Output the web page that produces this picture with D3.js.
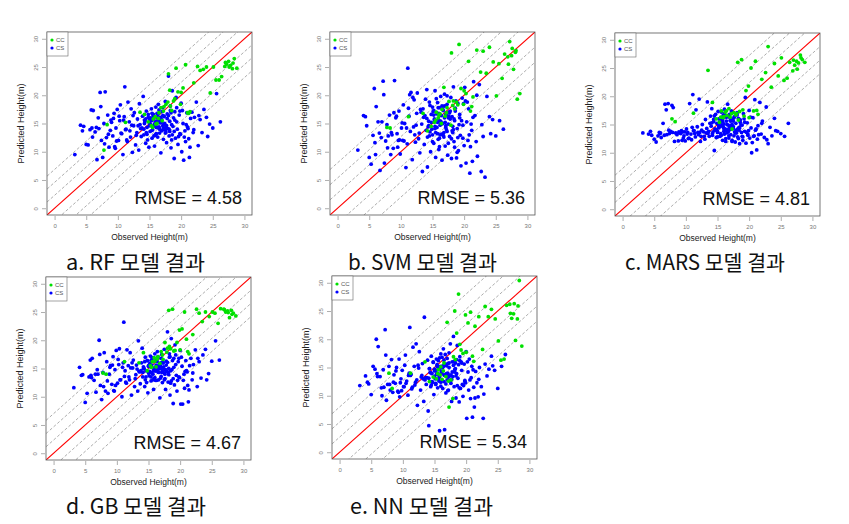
<!DOCTYPE html>
<html><head><meta charset="utf-8">
<script src="https://cdn.jsdelivr.net/npm/d3@7"></script>
<style>body{margin:0;background:#fff}svg{display:block}</style>
</head><body>
<svg id="c" width="849" height="524"></svg>
<script>
// ---------- DATA ----------
const obsCS = [
3.2,4.1,4.6,5.0,5.3,5.8,6.1,6.4,6.7,6.9,7.2,7.4,7.6,7.8,8.0,8.2,8.4,8.6,8.8,9.0,
9.2,9.4,9.5,9.7,9.9,10.1,10.3,10.4,10.6,10.8,11.0,11.1,11.3,11.5,11.6,11.8,12.0,12.1,12.3,12.5,
12.6,12.8,13.0,13.1,13.3,13.4,13.6,13.7,13.9,14.0,14.1,14.2,14.4,14.5,14.6,14.7,14.8,14.9,15.0,15.1,
15.2,15.3,15.4,15.5,15.5,15.6,15.7,15.8,15.9,16.0,16.0,16.1,16.2,16.3,16.4,16.4,16.5,16.6,16.7,16.8,
16.9,17.0,17.0,17.1,17.2,17.3,17.4,17.5,17.6,17.7,17.8,17.9,18.0,18.1,18.2,18.3,18.4,18.5,18.6,18.8,
18.9,19.0,19.1,19.3,19.4,19.5,19.7,19.8,20.0,20.1,20.3,20.4,20.6,20.7,20.9,21.0,21.2,21.3,21.5,21.7,
21.9,22.1,22.4,22.7,23.0,23.3,23.6,24.0,24.5,25.0,25.6,26.2,
14.3,15.2,15.8,16.2,16.6,17.1,17.5,18.0,18.7,19.2,13.5,12.9,11.9,10.9,9.8,8.5,7.0,6.0,5.6,4.4,
14.1,14.6,15.0,15.4,15.7,16.1,16.5,16.9,17.3,17.7,18.2,18.6,19.0,19.6,20.2,20.8,21.4,22.0,13.2,12.4,11.4,10.5,9.3,7.9,6.6,15.3,16.3,17.2,18.3,19.9,
13.8,14.2,14.5,14.8,15.0,15.2,15.4,15.6,15.8,16.0,16.1,16.3,16.5,16.7,16.9,17.1,17.3,17.5,17.8,18.1,
18.4,18.9,19.3,19.8,20.5,21.1,12.2,11.2,10.2,9.6,8.9,7.3,5.9,14.4,15.9,16.8,17.6,18.5,22.8,24.2];

const obsCC = [7.8,8.3,11.2,13.5,14.2,14.8,15.3,15.6,15.9,16.2,16.5,16.8,17.0,17.3,17.6,17.9,18.2,18.5,18.8,19.2,19.5,19.9,20.3,20.7,21.0,21.4,22.0,22.6,23.0,23.5,24.0,24.6,25.1,25.5,26.0,26.4,26.9,27.2,27.5,27.8,28.1,28.4,28.8,18.0,16.0,
15.5,16.4,17.2,18.3,19.0,20.0,21.2,27.0,27.6,28.2];

const predCS_RF = [
9.5,14.7,14.5,11.3,11.2,17.4,17.3,13.5,8.6,16.0,20.5,12.0,9.0,15.0,20.6,12.5,16.5,10.8,13.8,15.2,
12.8,16.8,10.9,14.2,17.5,12.0,15.5,18.3,13.2,9.5,16.2,21.5,14.0,11.8,18.8,15.3,12.6,17.6,9.9,14.6,
16.9,11.2,13.4,15.8,10.3,18.5,14.1,12.7,16.3,19.8,13.0,15.6,11.5,17.2,14.3,12.1,16.6,10.8,15.1,13.6,
14.8,17.6,12.4,15.9,13.9,16.4,14.5,11.0,15.3,17.9,13.1,14.9,16.8,12.6,15.6,18.4,14.2,13.3,16.1,9.8,
15.7,13.8,17.1,14.6,12.2,16.3,15.0,18.9,13.5,11.6,16.7,14.1,23.4,12.8,15.4,17.3,10.7,14.8,13.0,16.0,
8.8,15.6,12.4,17.8,14.0,11.3,16.5,13.2,18.6,10.0,15.0,8.5,13.7,11.8,16.9,14.4,12.3,9.0,15.9,17.0,
13.4,16.1,18.8,11.1,15.7,13.4,17.5,16.1,14.9,14.2,20.3,15.3,
15.4,16.0,14.7,15.2,14.0,17.8,13.9,16.4,14.5,19.6,14.8,12.9,13.7,15.6,11.9,13.1,14.1,12.6,13.9,13.7,
14.0,13.1,15.8,16.8,12.8,14.3,17.4,15.2,16.2,14.6,13.6,20.8,17.1,12.7,17.3,14.8,10.8,13.9,14.6,16.4,12.1,13.3,15.9,11.4,14.3,15.5,16.6,14.2,18.1,13.1,
14.2,15.0,13.4,16.1,14.6,15.7,13.8,16.6,14.9,15.4,13.2,16.0,14.4,15.1,13.7,16.4,14.8,13.3,15.9,14.0,
16.9,13.6,15.3,17.2,12.6,14.1,14.7,13.9,16.3,10.6,15.6,18.0,14.2,15.8,12.9,15.5,14.4,12.1,16.4,12.7];
const predCC_RF = [10.3,14.8,15.2,17.0,16.6,15.3,14.6,15.8,16.2,15.0,16.9,17.8,15.5,18.0,18.4,18.8,20.9,17.3,19.0,24.8,20.6,18.4,21.3,25.4,16.9,17.1,22.2,25.1,24.4,24.6,25.0,20.4,25.0,22.7,22.7,23.3,25.1,25.5,26.0,25.3,24.7,26.5,24.8,23.8,14.9,
14.3,15.9,17.2,18.1,19.4,20.5,16.8,25.8,25.0,25.7];

const predCS_SVM = [
10.3,16.4,14.6,9.0,7.8,21.2,18.0,15.3,6.7,12.5,22.5,8.0,11.9,14.8,12.8,16.5,9.5,13.0,10.6,22.6,
16.0,13.2,10.8,17.2,9.6,14.2,12.0,18.3,15.0,7.2,11.4,24.8,16.3,13.6,20.5,8.6,14.4,19.2,11.7,16.8,
20.4,12.3,9.8,17.5,14.9,6.5,16.1,11.3,19.3,13.8,21.0,7.3,15.4,12.8,18.2,10.0,16.6,14.0,13.0,17.1,
11.5,15.8,20.8,13.4,9.0,16.9,14.3,18.7,12.2,15.6,10.4,17.8,14.7,19.8,13.1,16.4,8.5,15.0,17.3,12.6,
20.2,15.2,11.0,16.6,13.9,18.4,9.4,14.9,17.0,12.7,15.8,19.6,8.8,16.2,13.4,21.5,11.8,15.5,17.7,8.9,
14.1,18.6,10.2,16.0,12.9,7.5,19.5,14.7,11.1,21.4,8.0,15.3,12.0,17.6,6.2,10.9,13.8,8.3,22.4,16.4,
11.8,9.2,21.9,6.5,12.7,5.5,19.8,16.2,15.7,12.8,15.5,14.0,
14.4,16.5,15.2,13.0,17.6,14.6,16.0,12.3,19.0,14.8,17.6,13.3,19.6,14.2,12.1,13.4,15.3,9.5,12.9,16.2,
15.9,13.5,17.9,14.1,16.7,12.4,15.0,18.1,13.6,16.9,14.5,17.2,12.5,15.5,19.0,13.0,16.1,20.0,17.0,14.7,20.1,11.9,16.3,10.7,13.3,15.6,14.9,16.6,13.9,18.5,
16.4,12.6,18.8,15.2,11.8,17.3,14.5,19.4,13.2,16.8,10.9,15.4,18.1,12.9,16.0,14.3,19.9,11.5,17.2,13.7,
15.8,9.9,16.6,12.4,18.8,14.9,13.0,17.7,15.1,12.0,16.9,20.1,11.6,14.6,17.8,13.4,16.3,10.8,14.8,13.2];
const predCC_SVM = [14.3,14.2,16.2,16.8,13.7,14.5,15.2,17.0,16.0,16.7,17.5,21.4,16.3,17.8,18.9,14.7,18.2,17.6,18.8,29.0,21.2,18.4,20.3,26.0,17.2,19.7,28.0,24.1,27.8,23.9,28.5,25.9,19.9,25.6,23.0,27.3,26.8,29.5,27.0,24.6,27.6,19.3,20.3,27.5,16.5,
15.6,15.0,16.9,19.0,18.3,20.8,18.0,25.5,28.3,27.9];

const predCS_MARS = [
13.5,13.3,13.1,12.4,11.9,13.6,12.7,15.2,18.6,17.6,18.7,13.4,13.8,18.4,18.0,12.0,13.5,13.2,12.1,13.5,
13.4,12.2,13.7,13.0,12.1,14.2,13.6,12.5,18.7,13.3,14.5,20.3,13.9,12.8,17.6,14.6,13.2,19.5,12.0,14.0,
15.0,13.7,12.4,15.9,14.3,19.0,13.8,12.9,16.5,14.7,17.8,13.1,15.5,10.4,14.2,16.8,12.7,15.2,13.6,17.3,
14.4,16.0,12.9,15.4,13.4,17.2,14.8,12.2,16.6,15.1,13.8,17.7,14.2,12.0,16.3,15.6,13.5,18.6,14.9,12.6,
16.8,14.1,15.7,13.2,17.4,12.0,15.9,14.6,13.0,16.4,11.9,15.2,14.0,17.1,12.8,16.1,14.5,11.6,15.8,13.6,
14.9,12.2,16.9,13.8,19.8,11.7,15.3,13.1,17.5,12.6,14.4,10.0,16.2,12.9,19.4,14.0,10.5,12.4,13.2,18.9,
13.3,15.6,12.7,18.1,11.6,14.5,13.0,16.1,13.8,13.4,12.9,15.2,
13.7,14.8,15.5,14.1,13.9,15.6,14.3,13.5,14.9,16.0,13.4,12.9,13.6,12.3,13.7,13.4,13.2,13.5,13.0,13.8,
15.3,14.0,13.8,14.7,15.9,13.3,14.1,14.5,15.0,13.7,14.2,15.4,12.8,13.6,16.3,13.0,14.8,15.2,13.5,12.9,13.4,12.6,13.9,13.6,13.1,14.6,13.9,14.8,12.5,13.9,
15.2,13.4,16.5,14.1,12.8,16.0,14.7,13.1,15.8,14.3,16.9,12.5,15.0,13.7,16.3,14.8,12.2,15.6,13.5,16.7,
14.0,12.9,15.4,13.3,11.8,14.2,13.6,13.9,13.3,12.6,13.7,14.0,13.4,15.9,14.6,13.0,16.2,14.4,12.3,13.9];
const predCC_MARS = [16.0,15.5,17.0,24.6,18.9,16.0,15.4,17.4,16.2,17.2,16.6,17.8,16.3,14.2,17.1,16.7,26.0,17.3,26.5,16.5,21.0,21.8,25.0,17.4,26.2,16.8,23.0,24.2,28.8,21.6,25.8,23.6,26.8,22.8,23.2,26.0,24.5,25.5,26.2,25.9,27.3,26.5,26.0,16.9,16.4,
16.3,17.4,16.9,15.8,17.6,16.2,17.5,26.4,24.8,26.8];

const predCS_GB = [
11.6,15.2,13.9,9.0,10.6,16.5,16.8,12.9,10.8,14.8,20.0,12.0,9.5,14.3,17.8,11.0,16.2,10.6,14.0,15.5,
12.2,17.1,11.1,14.8,18.2,12.4,15.7,18.5,13.0,10.0,16.0,23.2,14.6,12.4,18.3,15.5,13.0,17.8,10.3,15.1,
16.5,11.8,13.9,15.6,11.0,19.9,14.4,12.3,16.0,18.6,13.5,15.0,11.8,17.0,14.6,12.5,16.4,10.7,15.4,13.7,
14.5,17.2,12.8,15.6,14.2,16.8,14.0,11.3,15.1,17.6,13.4,14.6,16.5,12.9,15.3,18.0,14.4,13.0,15.8,9.8,
15.4,13.6,16.8,14.3,12.5,16.0,15.3,18.4,13.2,11.3,16.3,14.5,21.5,12.6,15.0,17.0,10.3,14.6,12.8,16.4,
8.8,15.2,12.1,17.4,13.8,11.0,16.2,13.5,18.2,8.7,15.4,8.7,14.0,11.5,16.4,14.6,12.0,9.1,15.5,16.8,
13.0,15.7,18.3,11.8,16.2,13.3,17.4,18.4,14.1,16.3,19.9,16.5,
15.0,15.7,14.9,15.6,14.3,17.5,14.2,16.1,14.8,19.2,14.5,13.2,13.5,15.2,12.0,12.8,14.0,13.4,13.5,13.8,
14.3,13.5,15.5,16.4,13.0,14.6,17.1,15.0,16.0,14.8,13.9,20.3,16.8,12.9,17.0,14.5,11.2,14.2,14.9,16.0,12.6,13.0,15.6,11.8,14.0,15.3,16.3,14.5,17.6,13.4,
14.6,15.3,13.0,16.4,14.2,15.9,13.5,16.9,14.6,15.0,12.9,16.3,14.8,15.5,13.3,16.1,15.0,13.0,15.6,14.3,
17.1,13.2,15.7,16.8,12.9,14.4,15.1,13.6,16.6,11.0,15.2,17.5,13.8,16.2,13.1,15.9,14.0,12.4,16.8,13.0];
const predCC_GB = [14.2,14.0,16.2,16.0,17.8,14.6,15.5,16.2,16.9,15.3,17.1,15.9,18.0,16.6,19.6,17.9,25.3,18.5,25.5,18.2,19.6,21.8,22.0,25.0,20.2,17.6,21.0,25.5,24.8,23.3,25.0,24.2,25.0,24.8,23.0,25.6,25.5,25.0,25.2,24.0,25.3,24.8,24.3,18.6,16.3,
15.2,16.7,17.4,18.9,18.1,18.3,18.0,25.4,24.9,24.6];

const predCS_NN = [
11.8,13.5,12.1,10.2,15.2,20.0,18.7,13.4,10.0,14.6,21.7,9.2,12.0,15.2,11.0,16.4,10.6,13.7,12.2,15.0,
10.8,16.5,9.8,13.0,14.5,11.6,15.4,17.2,12.6,10.1,14.0,22.1,13.8,11.5,18.6,15.2,12.4,19.2,8.3,14.9,
17.8,11.0,13.6,15.7,9.0,23.9,13.2,12.0,16.3,7.3,4.7,14.8,11.6,17.0,13.9,12.4,15.9,10.2,14.4,13.0,
12.0,16.5,14.0,15.1,11.4,16.2,13.6,3.8,14.9,17.4,12.4,14.3,16.8,11.3,15.2,18.3,13.7,4.0,15.6,10.5,
15.3,12.8,16.6,14.0,11.0,17.6,13.5,19.2,12.2,9.0,16.0,13.4,20.5,11.6,14.6,15.8,9.6,13.9,11.8,15.5,
8.9,16.2,11.3,14.5,12.0,9.9,15.6,12.5,17.8,6.0,14.2,11.0,12.8,9.5,15.2,6.2,11.5,8.0,14.3,12.3,
9.8,15.0,11.6,6.0,15.6,13.5,14.7,17.0,14.5,11.3,15.2,17.3,
14.1,14.5,13.3,15.0,13.6,15.7,12.7,15.4,13.1,16.0,12.8,13.3,11.9,13.6,10.9,12.4,11.5,13.4,14.7,12.4,
13.1,12.5,14.7,15.3,12.6,14.0,16.3,13.9,15.8,12.9,14.2,18.9,16.9,11.8,16.0,13.2,9.6,12.9,13.0,15.4,11.2,12.2,10.6,12.0,11.4,13.8,15.0,13.3,14.8,12.3,
13.2,14.8,11.9,16.0,13.4,12.2,15.5,13.0,16.7,11.7,14.1,15.3,12.5,17.3,13.8,10.9,15.0,12.6,14.2,16.1,
13.5,11.4,15.8,12.7,16.5,14.6,12.8,13.6,11.6,12.3,14.4,17.2,13.9,14.1,15.2,12.1,13.7,16.4,10.3,15.3];
const predCC_NN = [14.0,11.3,14.0,16.0,12.5,13.3,13.0,14.6,13.7,12.9,15.8,13.4,23.0,8.0,12.8,9.5,25.0,21.1,28.0,18.1,17.5,24.3,22.9,24.8,17.0,22.3,24.0,18.2,25.8,24.0,25.3,23.6,19.7,16.3,16.5,26.0,26.2,23.7,24.5,19.8,23.6,30.4,18.8,16.9,15.1,
13.9,14.4,12.6,16.4,19.1,17.7,16.1,24.6,26.3,25.9];

const modelNames = ["RF","SVM","MARS","GB","NN"];
const captions = ["a. RF 모델 결과","b. SVM 모델 결과","c. MARS 모델 결과","d. GB 모델 결과","e. NN 모델 결과"];
const rmseValues = ["4.58","5.36","4.81","4.67","5.34"];
const axisTicks = [0,5,10,15,20,25,30];
const legendLabels = ["CC","CS"];
const xTitle = "Observed Height(m)";
const yTitle = "Predicted Height(m)";

// ---------- LAYOUT ----------
const predCS = [predCS_RF,predCS_SVM,predCS_MARS,predCS_GB,predCS_NN];
const predCC = [predCC_RF,predCC_SVM,predCC_MARS,predCC_GB,predCC_NN];
const boxes = [[47,32],[330,32],[615,33],[46,277],[332,276]];
const capPos = [[66,270,139],[348,270,149],[625,270,160],[66,514,140],[350,514,143]];
const PW = 205, PH = 183;
const DOM = [-1.2, 31.2];
const GREEN = "#00e000", BLUE = "#0000ff";

const svg = d3.select("#c");
const defs = svg.append("defs");

modelNames.forEach((m, i) => {
  const [bx, by] = boxes[i];
  const x = d3.scaleLinear().domain(DOM).range([bx, bx + PW]);
  const y = d3.scaleLinear().domain(DOM).range([by + PH, by]);
  const rmse = +rmseValues[i];

  defs.append("clipPath").attr("id", "clip" + i)
    .append("rect").attr("x", bx).attr("y", by).attr("width", PW).attr("height", PH);

  const g = svg.append("g");
  const inner = g.append("g").attr("clip-path", `url(#clip${i})`);

  // reference lines: dashed at ±RMSE/2, ±RMSE, ±1.5 RMSE
  [0.5, 1, 1.5].forEach(k => {
    [-1, 1].forEach(s => {
      const o = s * k * rmse;
      inner.append("line")
        .attr("x1", x(DOM[0] - 10)).attr("y1", y(DOM[0] - 10 + o))
        .attr("x2", x(DOM[1] + 10)).attr("y2", y(DOM[1] + 10 + o))
        .attr("stroke", "#8a8a8a").attr("stroke-width", 0.7)
        .attr("stroke-dasharray", "3,2");
    });
  });
  inner.append("line")
    .attr("x1", x(DOM[0])).attr("y1", y(DOM[0]))
    .attr("x2", x(DOM[1])).attr("y2", y(DOM[1]))
    .attr("stroke", "#ff0000").attr("stroke-width", 1.1);

  // points
  inner.selectAll(".cs").data(obsCS.map((v, j) => [v, predCS[i][j]])).enter()
    .append("circle").attr("cx", d => x(d[0])).attr("cy", d => y(d[1]))
    .attr("r", 1.9).attr("fill", BLUE);
  inner.selectAll(".cc").data(obsCC.map((v, j) => [v, predCC[i][j]])).enter()
    .append("circle").attr("cx", d => x(d[0])).attr("cy", d => y(d[1]))
    .attr("r", 1.9).attr("fill", GREEN);

  // box
  g.append("rect").attr("x", bx).attr("y", by).attr("width", PW).attr("height", PH)
    .attr("fill", "none").attr("stroke", "#555").attr("stroke-width", 0.8);

  // axes
  const xa = d3.axisBottom(x).tickValues(axisTicks).tickSize(4).tickPadding(4);
  const gx = g.append("g").attr("transform", `translate(0,${by + PH + 1})`).call(xa);
  gx.select(".domain").remove();
  gx.selectAll("line").attr("stroke", "#777").attr("stroke-width", 0.6);
  gx.selectAll("text").attr("font-size", 6).attr("fill", "#777").attr("font-family", "Liberation Sans, Arial, sans-serif");

  const ya = d3.axisLeft(y).tickValues(axisTicks).tickSize(4).tickPadding(3);
  const gy = g.append("g").attr("transform", `translate(${bx - 1},0)`).call(ya);
  gy.select(".domain").remove();
  gy.selectAll("line").attr("stroke", "#777").attr("stroke-width", 0.6);
  gy.selectAll("text").attr("font-size", 6).attr("fill", "#777")
    .attr("font-family", "Liberation Sans, Arial, sans-serif")
    .attr("text-anchor", "middle").attr("dy", 0)
    .attr("x", 0).attr("y", 0)
    .attr("transform", "translate(-8,0) rotate(-90)");

  // axis titles
  g.append("text").attr("x", bx + PW / 2).attr("y", by + PH + 25)
    .attr("text-anchor", "middle").attr("font-size", 8.5).attr("fill", "#222")
    .attr("font-family", "Liberation Sans, Arial, sans-serif").text(xTitle);
  g.append("text").attr("transform", `translate(${bx - 23},${by + PH / 2}) rotate(-90)`)
    .attr("text-anchor", "middle").attr("font-size", 9).attr("fill", "#222")
    .attr("font-family", "Liberation Sans, Arial, sans-serif").text(yTitle);

  // legend
  const lg = g.append("g");
  lg.append("rect").attr("x", bx).attr("y", by).attr("width", 21).attr("height", 24)
    .attr("fill", "#fff").attr("stroke", "#666").attr("stroke-width", 0.6);
  [GREEN, BLUE].forEach((c, k) => {
    lg.append("circle").attr("cx", bx + 5).attr("cy", by + 8 + k * 8).attr("r", 1.6).attr("fill", c);
    lg.append("text").attr("x", bx + 9).attr("y", by + 10 + k * 8)
      .attr("font-size", 6).attr("fill", "#555")
      .attr("font-family", "Liberation Sans, Arial, sans-serif").text(legendLabels[k]);
  });

  // RMSE
  g.append("text").attr("x", bx + PW - 10).attr("y", by + PH - 11)
    .attr("text-anchor", "end").attr("font-size", 18).attr("fill", "#111")
    .attr("font-family", "Liberation Sans, Arial, sans-serif")
    .text("RMSE = " + rmseValues[i]);

  // caption
  const [cx, cy, cw] = capPos[i];
  g.append("text").attr("x", cx).attr("y", cy)
    .attr("font-size", 21).attr("fill", "#111")
    .attr("font-family", "'Noto Sans CJK KR', sans-serif")
    .attr("textLength", cw).attr("lengthAdjust", "spacingAndGlyphs")
    .text(captions[i]);
});
</script>
</body></html>
